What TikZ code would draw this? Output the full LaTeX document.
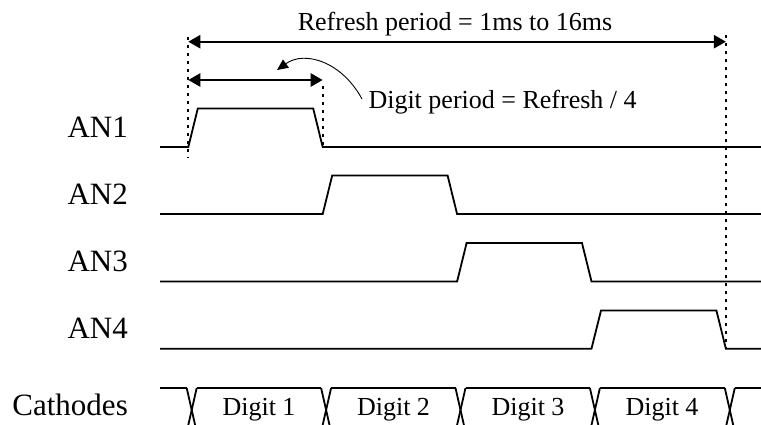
\documentclass[tikz,border=0pt]{standalone}
\usepackage{fontspec}
\setmainfont{Liberation Serif}
\usetikzlibrary{arrows.meta}
\begin{document}
\begin{tikzpicture}[x=1pt,y=-1pt,
  sig/.style={line width=1.8pt, line join=miter},
  dimline/.style={line width=2.4pt, {Triangle[length=12pt,width=13pt]}-{Triangle[length=12pt,width=13pt]}},
  guide/.style={line width=2pt, dash pattern=on 3pt off 5pt},
  lbl/.style={font=\fontsize{31}{36}\selectfont, anchor=base east, inner sep=0pt},
  txt/.style={font=\fontsize{26}{30}\selectfont, inner sep=0pt},
  pointer/.style={line width=0.9pt, -{Triangle[length=11pt,width=10pt]}}]
\useasboundingbox (0,0) rectangle (761,424);
\clip (0,0) rectangle (761,424);
% time marks
\def\ta{188.3}\def\tb{322.7}\def\tc{457.1}\def\td{591.5}\def\te{725.9}
% labels
\node[lbl] (an1) at (128,137) {AN1};
\node[lbl] (an2) at (128,204) {AN2};
\node[lbl] (an3) at (128,271.5) {AN3};
\node[lbl] (an4) at (128,338.7) {AN4};
\node[lbl] (cath) at (128,415) {Cathodes};
% signals
\draw[sig] (160,147) -- (\ta,147) -- (\ta+9.5,108.5) -- (\tb-9.5,108.5) -- (\tb,147) -- (761,147);
\draw[sig] (160,214) -- (\tb,214) -- (\tb+9.5,175.5) -- (\tc-9.5,175.5) -- (\tc,214) -- (761,214);
\draw[sig] (160,281.5) -- (\tc,281.5) -- (\tc+9.5,243) -- (\td-9.5,243) -- (\td,281.5) -- (761,281.5);
\draw[sig] (160,348.7) -- (\td,348.7) -- (\td+9.5,310.5) -- (\te-9.5,310.5) -- (\te,348.7) -- (761,348.7);
% cathode bus
\foreach \c in {191.7,326.1,460.5,594.9,729.8}{
  \draw[sig] (\c-5,388) -- (\c+5,432);
  \draw[sig] (\c+5,388) -- (\c-5,432);
}
\draw[sig] (160,388) -- (186.7,388);
\draw[sig] (196.7,388) -- (321.1,388);
\draw[sig] (331.1,388) -- (455.5,388);
\draw[sig] (465.5,388) -- (589.9,388);
\draw[sig] (599.9,388) -- (724.8,388);
\draw[sig] (734.8,388) -- (761,388);
\node[txt, anchor=base] (d1) at (259,415) {Digit 1};
\node[txt, anchor=base] (d2) at (393.5,415) {Digit 2};
\node[txt, anchor=base] (d3) at (528,415) {Digit 3};
\node[txt, anchor=base] (d4) at (662,415) {Digit 4};
% guides
\coordinate (g1t) at (\ta,37);
\coordinate (g1b) at (\ta,158);
\coordinate (g2t) at (\tb,86);
\coordinate (g2b) at (\tb,146);
\coordinate (g3t) at (\te,35);
\coordinate (g3b) at (\te,348);
\draw[guide] (g1t) -- (g1b);
\draw[guide] (g2t) -- (g2b);
\draw[guide] (g3t) -- (g3b);
% dimension arrows
\coordinate (ra) at (\ta,41.7);
\coordinate (rb) at (\te,41.7);
\coordinate (da) at (\ta,80);
\coordinate (db) at (\tb,80);
\draw[dimline] (ra) -- (rb);
\draw[dimline] (da) -- (db);
\node[txt, anchor=base] (reftext) at (455,30) {Refresh period = 1ms to 16ms};
\node[txt, anchor=base west] (digtext) at (368.3,108) {Digit period = Refresh / 4};
\coordinate (ps) at (362,99);
\coordinate (pe) at (277,70);
\draw[pointer] (ps) .. controls (342,62) and (305,50) .. (pe);
\end{tikzpicture}
\end{document}
